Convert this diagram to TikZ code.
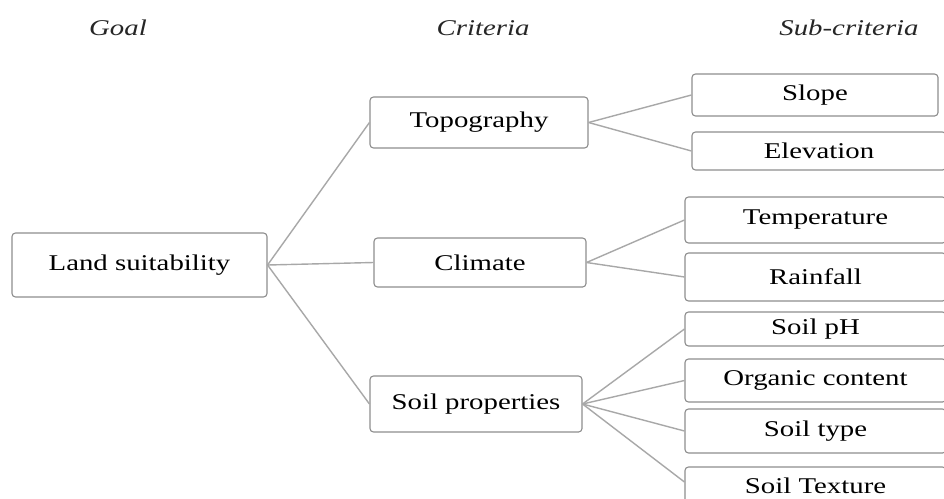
\documentclass[tikz,border=0pt]{standalone}
\usepackage{fontspec}
\setmainfont{Liberation Serif}[FakeStretch=1.28]
\definecolor{boxgray}{HTML}{8E8E8E}
\definecolor{linegray}{HTML}{A8A8A8}
\tikzset{
  box/.style={draw=boxgray, line width=1.1pt, rounded corners=3.5pt, inner sep=0pt, fill=white, text=black, font=\fontsize{22.5}{26}\selectfont},
  head/.style={inner sep=0pt, font=\fontsize{22.5}{26}\selectfont\itshape, text=black!85},
  link/.style={draw=linegray, line width=1.4pt}
}
\begin{document}
\begin{tikzpicture}[x=1pt,y=-1pt]
\useasboundingbox[fill=white] (0,0) rectangle (944,498);
% headers
\node[head] (hgoal) at (118,28) {Goal};
\node[head] (hcrit) at (483,28) {Criteria};
\node[head] (hsub) at (849,28) {Sub-criteria};
% goal
\node[box, minimum width=255pt, minimum height=64pt] (goal) at (139.5,265) {Land suitability};
% criteria
\node[box, minimum width=218pt, minimum height=51pt] (topo) at (479,122.5) {Topography};
\node[box, minimum width=212pt, minimum height=49pt] (clim) at (480,262.5) {Climate};
\node[box, minimum width=212pt, minimum height=56pt] (soil) at (476,404) {Soil properties};
% sub-criteria
\node[box, minimum width=246pt, minimum height=42pt] (slope) at (815,95) {Slope};
\node[box, minimum width=254pt, minimum height=38pt] (elev) at (819,151) {Elevation};
\node[box, minimum width=261pt, minimum height=46pt] (temp) at (815.5,220) {Temperature};
\node[box, minimum width=261pt, minimum height=48pt] (rain) at (815.5,277) {Rainfall};
\node[box, minimum width=261pt, minimum height=34pt] (ph) at (815.5,329) {Soil pH};
\node[box, minimum width=261pt, minimum height=43pt] (org) at (815.5,380.5) {Organic content};
\node[box, minimum width=261pt, minimum height=44pt] (stype) at (815.5,431) {Soil type};
\node[box, minimum width=261pt, minimum height=38pt] (stex) at (815.5,486) {Soil Texture};
% connectors
\draw[link] (goal.east) -- (topo.west);
\draw[link] (goal.east) -- (clim.west);
\draw[link] (goal.east) -- (soil.west);
\draw[link] (topo.east) -- (slope.west);
\draw[link] (topo.east) -- (elev.west);
\draw[link] (clim.east) -- (temp.west);
\draw[link] (clim.east) -- (rain.west);
\draw[link] (soil.east) -- (ph.west);
\draw[link] (soil.east) -- (org.west);
\draw[link] (soil.east) -- (stype.west);
\draw[link] (soil.east) -- ([yshift=4pt]stex.west);
\end{tikzpicture}
\end{document}
